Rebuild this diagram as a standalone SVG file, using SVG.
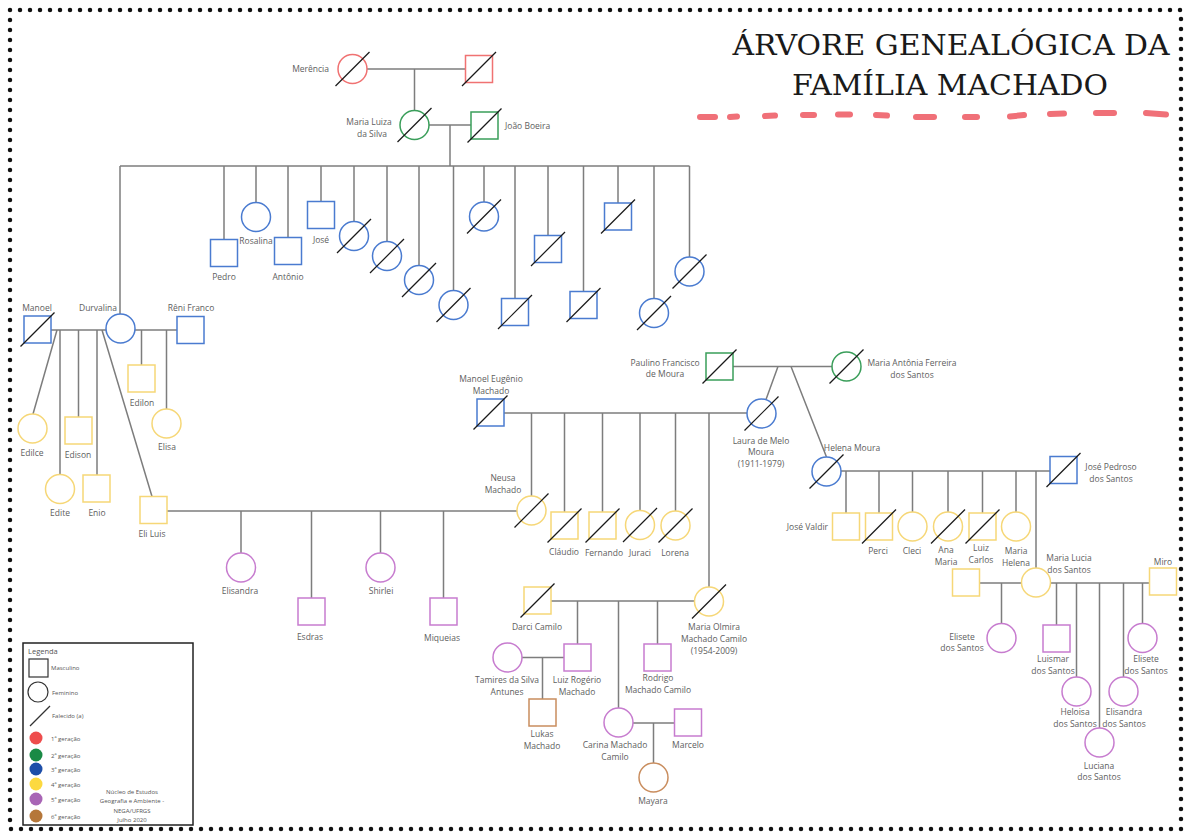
<svg xmlns="http://www.w3.org/2000/svg" width="1191" height="838" viewBox="0 0 1191 838">
<style>
.c{stroke:#7d7d7d;stroke-width:1.5;fill:none}
.s{fill:#fff;stroke-width:1.5}
.r{stroke:#f07272}.g{stroke:#3a9e5a}.b{stroke:#4a7bd0}.y{stroke:#f6d777}.p{stroke:#c77ccf}.o{stroke:#c98d5e}
.x{stroke:#1a1a1a;stroke-width:1.2}
.t{font-family:"Open Sans",sans-serif;font-size:8.5px;fill:#606060;text-anchor:middle}
.e{text-anchor:end}.st{text-anchor:start}
.lg{font-family:"Open Sans",sans-serif;font-size:6px;fill:#555}
.dash{stroke:#f07078;stroke-width:6;stroke-linecap:round}
</style>
<rect width="1191" height="838" fill="#fff"/>
<rect x="10" y="10" width="1171" height="819" fill="none" stroke="#111" stroke-width="4.5" stroke-linecap="round" stroke-dasharray="0 10"/>
<g id="title">
<text x="951" y="55" font-family="DejaVu Serif, serif" font-size="28" fill="#1a1a1a" text-anchor="middle" textLength="437" lengthAdjust="spacingAndGlyphs">ÁRVORE GENEALÓGICA DA</text>
<text x="950" y="95" font-family="DejaVu Serif, serif" font-size="28" fill="#1a1a1a" text-anchor="middle" textLength="316" lengthAdjust="spacingAndGlyphs">FAMÍLIA MACHADO</text>
<g class="dash">
<line x1="700" y1="117" x2="715" y2="117"/><line x1="730" y1="117" x2="737" y2="116.5"/><line x1="765" y1="116" x2="775" y2="115.5"/><line x1="803" y1="115" x2="814" y2="115"/><line x1="838" y1="114.5" x2="850" y2="114.5"/><line x1="876" y1="115" x2="887" y2="115.5"/><line x1="916" y1="117" x2="934" y2="117"/><line x1="965" y1="117" x2="977" y2="117"/><line x1="1010" y1="116.5" x2="1024" y2="115"/><line x1="1050" y1="114" x2="1064" y2="113.5"/><line x1="1096" y1="113" x2="1114" y2="113"/><line x1="1146" y1="113" x2="1166" y2="114.5"/>
</g>
</g>
<g id="connectors" class="c">
<path d="M367 69H465.5M414.5 69V110.5M429 125H471M450 125V166M120 166H689.5"/>
<path d="M120 166V314M224 166V239.5M256 166V202.5M288 166V237.5M321 166V201.5M354 166V221.5M387 166V241.5M419 166V265.5M453.5 166V290.5M484 166V202M515 166V298.5M548 166V235.5M583.5 166V291.5M618 166V203M654 166V298.5M689.5 166V257"/>
<path d="M51 330H106M135 330H177M57 330L33 414M60 330V474.5M78.5 330V417M97 330V475M102 330L152 496.5M141.5 330V365M166.5 330V409"/>
<path d="M167 511H517M241 511V553M311.5 511V598M380.5 511V553M443.5 511V598"/>
<path d="M504 413H747M531.5 413V496M564.5 413V512M602.5 413V512M640 413V510.5M675.5 413V511M709 413V587"/>
<path d="M733 366.5H832M778 366.5L766 399.5M791 366.5L826.5 457"/>
<path d="M841 471H1050M846 471V513M879 471V513M912.5 471V512M948 471V512M982.5 471V513M1016 471V512M1036 471V568"/>
<path d="M979.5 583H1021.5M1001.5 583V623.5M1050.5 583H1149.5M1056.5 583V625M1076.5 583V677M1099.5 583V728M1123.5 583V677M1142.5 583V623.5"/>
<path d="M551 601H694.5M577.5 601V644M618.5 601V708M657.5 601V644M522 657.5H564M542.5 657.5V699M633 723H674.5M653.5 723V763"/>
</g>
<g id="merencia"><circle class="s r" cx="352.5" cy="69" r="14.5"/><line class="x" x1="335.5" y1="86" x2="369.5" y2="52"/><text class="t e" x="329" y="72">Merência</text></g>
<g id="pai-maria-luiza"><rect class="s r" x="465.5" y="55.5" width="27" height="27"/><line class="x" x1="462" y1="86" x2="496" y2="52"/></g>
<g id="maria-luiza"><circle class="s g" cx="414.5" cy="125" r="14.5"/><line class="x" x1="397.5" y1="142" x2="431.5" y2="108"/><text class="t" x="369" y="125">Maria Luiza</text><text class="t" x="372" y="137">da Silva</text></g>
<g id="joao-boeira"><rect class="s g" x="471" y="112" width="27" height="27"/><line class="x" x1="467.5" y1="142.5" x2="501.5" y2="108.5"/><text class="t st" x="505" y="129">João Boeira</text></g>
<g id="pedro"><rect class="s b" x="210.5" y="239.5" width="27" height="27"/><text class="t" x="224" y="280">Pedro</text></g>
<g id="rosalina"><circle class="s b" cx="256" cy="217" r="14.5"/><text class="t" x="256" y="244">Rosalina</text></g>
<g id="antonio"><rect class="s b" x="274.5" y="237.5" width="27" height="27"/><text class="t" x="288" y="280">Antônio</text></g>
<g id="jose"><rect class="s b" x="307.5" y="201.5" width="27" height="27"/><text class="t" x="321" y="243">José</text></g>
<g id="filha-1"><circle class="s b" cx="354" cy="236" r="14.5"/><line class="x" x1="337" y1="253" x2="371" y2="219"/></g>
<g id="filha-2"><circle class="s b" cx="387" cy="256" r="14.5"/><line class="x" x1="370" y1="273" x2="404" y2="239"/></g>
<g id="filha-3"><circle class="s b" cx="419" cy="280" r="14.5"/><line class="x" x1="402" y1="297" x2="436" y2="263"/></g>
<g id="filha-4"><circle class="s b" cx="453.5" cy="305" r="14.5"/><line class="x" x1="436.5" y1="322" x2="470.5" y2="288"/></g>
<g id="filha-5"><circle class="s b" cx="484" cy="216.5" r="14.5"/><line class="x" x1="467" y1="233.5" x2="501" y2="199.5"/></g>
<g id="filho-1"><rect class="s b" x="501.5" y="298.5" width="27" height="27"/><line class="x" x1="498" y1="329" x2="532" y2="295"/></g>
<g id="filho-2"><rect class="s b" x="534.5" y="235.5" width="27" height="27"/><line class="x" x1="531" y1="266" x2="565" y2="232"/></g>
<g id="filho-3"><rect class="s b" x="570" y="291.5" width="27" height="27"/><line class="x" x1="566.5" y1="322" x2="600.5" y2="288"/></g>
<g id="filho-4"><rect class="s b" x="604.5" y="203" width="27" height="27"/><line class="x" x1="601" y1="233.5" x2="635" y2="199.5"/></g>
<g id="filha-6"><circle class="s b" cx="654" cy="313" r="14.5"/><line class="x" x1="637" y1="330" x2="671" y2="296"/></g>
<g id="filha-7"><circle class="s b" cx="689.5" cy="271.5" r="14.5"/><line class="x" x1="672.5" y1="288.5" x2="706.5" y2="254.5"/></g>
<g id="manoel"><rect class="s b" x="24" y="316" width="27" height="27"/><line class="x" x1="20.5" y1="346.5" x2="54.5" y2="312.5"/><text class="t" x="37" y="311">Manoel</text></g>
<g id="durvalina"><circle class="s b" cx="120.5" cy="328.5" r="14.5"/><text class="t" x="98" y="311">Durvalina</text></g>
<g id="reni-franco"><rect class="s b" x="177" y="316.5" width="27" height="27"/><text class="t" x="191" y="311">Rêni Franco</text></g>
<g id="edilce"><circle class="s y" cx="32.5" cy="428.5" r="14.5"/><text class="t" x="32" y="456">Edilce</text></g>
<g id="edite"><circle class="s y" cx="60" cy="489" r="14.5"/><text class="t" x="60" y="516">Edite</text></g>
<g id="edison"><rect class="s y" x="65" y="417" width="27" height="27"/><text class="t" x="78" y="458">Edison</text></g>
<g id="enio"><rect class="s y" x="83" y="475" width="27" height="27"/><text class="t" x="97" y="516">Enio</text></g>
<g id="eli-luis"><rect class="s y" x="140" y="496.5" width="27" height="27"/><text class="t" x="152" y="537">Eli Luis</text></g>
<g id="edilon"><rect class="s y" x="128" y="365" width="27" height="27"/><text class="t" x="142" y="406">Edilon</text></g>
<g id="elisa"><circle class="s y" cx="166.5" cy="423.5" r="14.5"/><text class="t" x="167" y="450">Elisa</text></g>
<g id="elisandra"><circle class="s p" cx="241" cy="567.5" r="14.5"/><text class="t" x="240" y="594">Elisandra</text></g>
<g id="esdras"><rect class="s p" x="298" y="598" width="27" height="27"/><text class="t" x="310" y="640">Esdras</text></g>
<g id="shirlei"><circle class="s p" cx="380.5" cy="567.5" r="14.5"/><text class="t" x="381" y="594">Shirlei</text></g>
<g id="miqueias"><rect class="s p" x="430" y="598" width="27" height="27"/><text class="t" x="442" y="641">Miqueias</text></g>
<g id="manoel-eugenio"><rect class="s b" x="477" y="399" width="27" height="27"/><line class="x" x1="473.5" y1="429.5" x2="507.5" y2="395.5"/><text class="t" x="491" y="382">Manoel Eugênio</text><text class="t" x="491" y="394">Machado</text></g>
<g id="laura"><circle class="s b" cx="761.5" cy="413.5" r="14.5"/><line class="x" x1="744.5" y1="430.5" x2="778.5" y2="396.5"/><text class="t" x="761" y="444">Laura de Melo</text><text class="t" x="761" y="455">Moura</text><text class="t" x="761" y="467">(1911-1979)</text></g>
<g id="neusa"><circle class="s y" cx="531.5" cy="510.5" r="14.5"/><line class="x" x1="514.5" y1="527.5" x2="548.5" y2="493.5"/><text class="t" x="503" y="481">Neusa</text><text class="t" x="503" y="493">Machado</text></g>
<g id="claudio"><rect class="s y" x="551" y="512" width="27" height="27"/><line class="x" x1="547.5" y1="542.5" x2="581.5" y2="508.5"/><text class="t" x="564" y="555">Cláudio</text></g>
<g id="fernando"><rect class="s y" x="589" y="512" width="27" height="27"/><line class="x" x1="585.5" y1="542.5" x2="619.5" y2="508.5"/><text class="t" x="604" y="556">Fernando</text></g>
<g id="juraci"><circle class="s y" cx="640" cy="525" r="14.5"/><line class="x" x1="623" y1="542" x2="657" y2="508"/><text class="t" x="640" y="556">Juraci</text></g>
<g id="lorena"><circle class="s y" cx="675.5" cy="525.5" r="14.5"/><line class="x" x1="658.5" y1="542.5" x2="692.5" y2="508.5"/><text class="t" x="675" y="556">Lorena</text></g>
<g id="maria-olmira"><circle class="s y" cx="709" cy="601.5" r="14.5"/><line class="x" x1="692" y1="618.5" x2="726" y2="584.5"/><text class="t" x="714" y="630">Maria Olmira</text><text class="t" x="714" y="642">Machado Camilo</text><text class="t" x="714" y="654">(1954-2009)</text></g>
<g id="paulino"><rect class="s g" x="706" y="353" width="27" height="27"/><line class="x" x1="702.5" y1="383.5" x2="736.5" y2="349.5"/><text class="t" x="665" y="366">Paulino Francisco</text><text class="t" x="665" y="377">de Moura</text></g>
<g id="maria-antonia"><circle class="s g" cx="846.5" cy="366.5" r="14.5"/><line class="x" x1="829.5" y1="383.5" x2="863.5" y2="349.5"/><text class="t" x="912" y="366">Maria Antônia Ferreira</text><text class="t" x="912" y="378">dos Santos</text></g>
<g id="helena"><circle class="s b" cx="826.5" cy="471.5" r="14.5"/><line class="x" x1="809.5" y1="488.5" x2="843.5" y2="454.5"/><text class="t" x="852" y="451">Helena Moura</text></g>
<g id="jose-pedroso"><rect class="s b" x="1050" y="456.5" width="27" height="27"/><line class="x" x1="1046.5" y1="487" x2="1080.5" y2="453"/><text class="t" x="1111" y="470">José Pedroso</text><text class="t" x="1111" y="482">dos Santos</text></g>
<g id="jose-valdir"><rect class="s y" x="832.5" y="513" width="27" height="27"/><text class="t e" x="828" y="530">José Valdir</text></g>
<g id="perci"><rect class="s y" x="865.5" y="513" width="27" height="27"/><line class="x" x1="862" y1="543.5" x2="896" y2="509.5"/><text class="t" x="878" y="554">Perci</text></g>
<g id="cleci"><circle class="s y" cx="912.5" cy="526.5" r="14.5"/><text class="t" x="912" y="554">Cleci</text></g>
<g id="ana-maria"><circle class="s y" cx="948" cy="526.5" r="14.5"/><line class="x" x1="931" y1="543.5" x2="965" y2="509.5"/><text class="t" x="946" y="553">Ana</text><text class="t" x="946" y="565">Maria</text></g>
<g id="luiz-carlos"><rect class="s y" x="969" y="513" width="27" height="27"/><line class="x" x1="965.5" y1="543.5" x2="999.5" y2="509.5"/><text class="t" x="981" y="551">Luiz</text><text class="t" x="981" y="563">Carlos</text></g>
<g id="maria-helena"><circle class="s y" cx="1016" cy="526.5" r="14.5"/><text class="t" x="1016" y="554">Maria</text><text class="t" x="1016" y="566">Helena</text></g>
<g id="maria-lucia"><circle class="s y" cx="1036" cy="582.5" r="14.5"/><text class="t" x="1069" y="561">Maria Lucia</text><text class="t" x="1069" y="573">dos Santos</text></g>
<g id="companheiro-maria-lucia"><rect class="s y" x="952.5" y="569" width="27" height="27"/></g>
<g id="miro"><rect class="s y" x="1149.5" y="568" width="27" height="27"/><text class="t" x="1163" y="565">Miro</text></g>
<g id="elisete-1"><circle class="s p" cx="1001.5" cy="638" r="14.5"/><text class="t" x="962" y="640">Elisete</text><text class="t" x="962" y="651">dos Santos</text></g>
<g id="luismar"><rect class="s p" x="1043" y="625" width="27" height="27"/><text class="t" x="1053" y="662">Luismar</text><text class="t" x="1053" y="674">dos Santos</text></g>
<g id="heloisa"><circle class="s p" cx="1076.5" cy="691.5" r="14.5"/><text class="t" x="1075" y="715">Heloisa</text><text class="t" x="1075" y="727">dos Santos</text></g>
<g id="luciana"><circle class="s p" cx="1099.5" cy="742.5" r="14.5"/><text class="t" x="1099" y="769">Luciana</text><text class="t" x="1099" y="780">dos Santos</text></g>
<g id="elisandra-santos"><circle class="s p" cx="1123.5" cy="691.5" r="14.5"/><text class="t" x="1124" y="715">Elisandra</text><text class="t" x="1124" y="727">dos Santos</text></g>
<g id="elisete-2"><circle class="s p" cx="1142.5" cy="638" r="14.5"/><text class="t" x="1146" y="662">Elisete</text><text class="t" x="1146" y="674">dos Santos</text></g>
<g id="darci"><rect class="s y" x="524" y="587" width="27" height="27"/><line class="x" x1="520.5" y1="617.5" x2="554.5" y2="583.5"/><text class="t" x="537" y="630">Darci Camilo</text></g>
<g id="luiz-rogerio"><rect class="s p" x="564" y="644" width="27" height="27"/><text class="t" x="577" y="683">Luiz Rogério</text><text class="t" x="577" y="695">Machado</text></g>
<g id="tamires"><circle class="s p" cx="507.5" cy="657.5" r="14.5"/><text class="t" x="507" y="683">Tamires da Silva</text><text class="t" x="507" y="695">Antunes</text></g>
<g id="rodrigo"><rect class="s p" x="644" y="644" width="27" height="27"/><text class="t" x="658" y="681">Rodrigo</text><text class="t" x="658" y="693">Machado Camilo</text></g>
<g id="carina"><circle class="s p" cx="618.5" cy="722.5" r="14.5"/><text class="t" x="615" y="748">Carina Machado</text><text class="t" x="615" y="760">Camilo</text></g>
<g id="marcelo"><rect class="s p" x="674.5" y="709" width="27" height="27"/><text class="t" x="688" y="748">Marcelo</text></g>
<g id="lukas"><rect class="s o" x="529" y="699" width="27" height="27"/><text class="t" x="542" y="737">Lukas</text><text class="t" x="542" y="749">Machado</text></g>
<g id="mayara"><circle class="s o" cx="653.5" cy="777.5" r="14.5"/><text class="t" x="653" y="804">Mayara</text></g>
<g id="legenda">
<rect x="23" y="643" width="170" height="182" fill="#fff" stroke="#222" stroke-width="1.5"/>
<text class="lg" x="28" y="654" style="font-size:7.5px">Legenda</text>
<rect x="29" y="659" width="19" height="18" fill="none" stroke="#333" stroke-width="1.2"/>
<text class="lg" x="51" y="670">Masculino</text>
<circle cx="38" cy="692" r="10" fill="none" stroke="#333" stroke-width="1.2"/>
<text class="lg" x="52" y="695">Feminino</text>
<line x1="30" y1="726" x2="50" y2="706" stroke="#333" stroke-width="1.2"/>
<text class="lg" x="52" y="718">Falecido (a)</text>
<circle cx="36" cy="738" r="6.5" fill="#ee4d4d"/><text class="lg" x="51" y="741">1ª geração</text>
<circle cx="36" cy="755" r="6.5" fill="#1a8a45"/><text class="lg" x="51" y="758">2ª geração</text>
<circle cx="36" cy="769" r="6.5" fill="#1d4ea8"/><text class="lg" x="51" y="772">3ª geração</text>
<circle cx="36" cy="784" r="6.5" fill="#fcd93f"/><text class="lg" x="51" y="787">4ª geração</text>
<circle cx="36" cy="799" r="6.5" fill="#a865b5"/><text class="lg" x="51" y="802">5ª geração</text>
<circle cx="36" cy="816" r="6.5" fill="#b5773a"/><text class="lg" x="51" y="819">6ª geração</text>
<text class="lg" x="132" y="794" text-anchor="middle">Núcleo de Estudos</text>
<text class="lg" x="132" y="803" text-anchor="middle">Geografia e Ambiente -</text>
<text class="lg" x="132" y="813" text-anchor="middle">NEGA/UFRGS</text>
<text class="lg" x="132" y="822" text-anchor="middle">Julho 2020</text>
</g>
</svg>
